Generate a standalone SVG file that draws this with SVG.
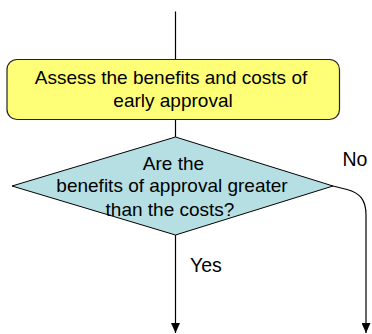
<svg xmlns="http://www.w3.org/2000/svg" width="372" height="334" viewBox="0 0 372 334">
<style>
text{font-family:"Liberation Sans",Arial,sans-serif;font-size:19px;fill:#000}
.lbl{font-size:19.5px}
.c{fill:none;stroke:#000;stroke-width:1.2}
</style>
<defs>
<marker id="ah" markerWidth="10" markerHeight="9" refX="10" refY="4.5" orient="auto" markerUnits="userSpaceOnUse" viewBox="0 0 10 9">
<path d="M0,0 L10,4.5 L0,9 Z" fill="#000"/>
</marker>
</defs>
<rect width="372" height="334" fill="#fff"/>
<g id="connectors">
<line class="c" x1="175.5" y1="11.5" x2="175.5" y2="59.5"/>
<line class="c" x1="175.5" y1="119.5" x2="175.5" y2="137"/>
<line class="c" x1="175.5" y1="235" x2="175.5" y2="333" marker-end="url(#ah)"/>
<path class="c" d="M333,186 L347,189.5 C360,193 366,200 366,215 L366,333" marker-end="url(#ah)"/>
<text class="lbl" x="342.5" y="165.5">No</text>
<text class="lbl" x="190" y="271.5">Yes</text>
</g>
<g id="assess">
<rect x="7" y="59.5" width="332.5" height="60" rx="10" fill="#FFFF77" stroke="#222" stroke-width="1.2"/>
<text x="171" y="84" text-anchor="middle">Assess the benefits and costs of</text>
<text x="173" y="106.5" text-anchor="middle">early approval</text>
</g>
<g id="decision">
<polygon points="175.5,137 333,186 175.5,235 12,186" fill="#B6DFE3" stroke="#000" stroke-width="1"/>
<text x="173.5" y="170" text-anchor="middle">Are the</text>
<text x="172" y="192" text-anchor="middle">benefits of approval greater</text>
<text x="170" y="215.5" text-anchor="middle">than the costs?</text>
</g>
</svg>
